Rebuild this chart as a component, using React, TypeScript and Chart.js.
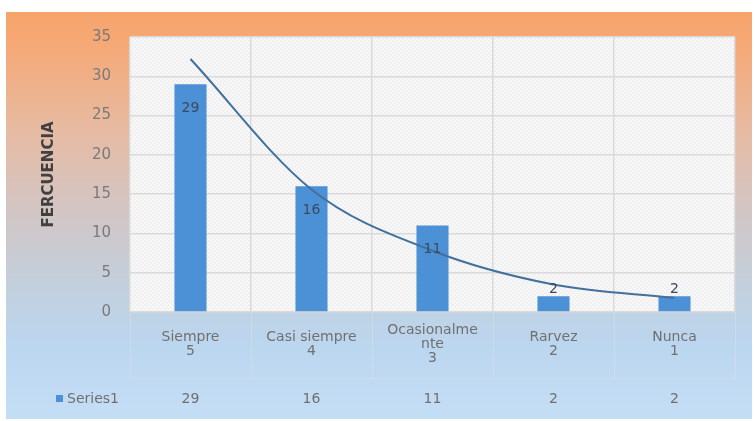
import React, { useEffect, useRef } from "react";
import { Chart, registerables } from "chart.js";

Chart.register(...registerables);

const categories: string[][] = [
  ["Siempre", "5"],
  ["Casi siempre", "4"],
  ["Ocasionalme", "nte", "3"],
  ["Rarvez", "2"],
  ["Nunca", "1"],
];
const seriesName = "Series1";
const frequencies = [29, 16, 11, 2, 2];
const trendValues = [32.2, 15.6, 7.8, 3.5, 1.8];
const yTicks = [0, 5, 10, 15, 20, 25, 30, 35];
const yTitle = "FERCUENCIA";

const FONT = "'DejaVu Sans', sans-serif";
const BAR_COLOR = "#4C91D6";

function makePattern(): CanvasPattern | string {
  const c = document.createElement("canvas");
  c.width = 4;
  c.height = 4;
  const x = c.getContext("2d");
  if (!x) return "#f4f4f4";
  x.fillStyle = "#f8f8f8";
  x.fillRect(0, 0, 4, 4);
  x.fillStyle = "#f0f0f0";
  x.fillRect(0, 0, 2, 2);
  x.fillRect(2, 2, 2, 2);
  const p = x.createPattern(c, "repeat");
  return p || "#f4f4f4";
}

export default function App() {
  const ref = useRef<HTMLCanvasElement | null>(null);

  useEffect(() => {
    const canvas = ref.current;
    if (!canvas) return;
    const pattern = makePattern();

    const decor = {
      id: "decor",
      beforeDraw(chart: any) {
        const { ctx, chartArea: a } = chart;
        ctx.save();
        const g = ctx.createLinearGradient(0, 12, 0, 419);
        g.addColorStop(0, "#F7A46B");
        g.addColorStop(0.07, "#F6A874");
        g.addColorStop(0.3, "#E6BBA4");
        g.addColorStop(0.5, "#D1C6C6");
        g.addColorStop(0.68, "#C2D0DE");
        g.addColorStop(0.82, "#BBD6EF");
        g.addColorStop(1, "#C4DEF5");
        ctx.fillStyle = g;
        ctx.fillRect(6, 12, 746, 407);
        ctx.fillStyle = pattern;
        ctx.fillRect(a.left, a.top, a.right - a.left, a.bottom - a.top);
        ctx.restore();
      },
      afterDatasetsDraw(chart: any) {
        const { ctx } = chart;
        const meta = chart.getDatasetMeta(1);
        ctx.save();
        ctx.font = `14px ${FONT}`;
        ctx.fillStyle = "#3b4a5e";
        ctx.textAlign = "center";
        ctx.textBaseline = "middle";
        meta.data.forEach((bar: any, i: number) => {
          const h = bar.base - bar.y;
          const y = h > 40 ? bar.y + 24 : bar.y - 7;
          ctx.fillText(String(frequencies[i]), bar.x, y);
        });
        ctx.restore();
      },
      afterDraw(chart: any) {
        const { ctx, chartArea: a } = chart;
        const xs = chart.scales.x;
        const n = categories.length;
        const bounds: number[] = [];
        for (let i = 0; i <= n; i++) {
          if (i === 0) bounds.push(a.left);
          else if (i === n) bounds.push(a.right);
          else bounds.push((xs.getPixelForTick(i - 1) + xs.getPixelForTick(i)) / 2);
        }
        ctx.save();
        ctx.strokeStyle = "rgba(210,220,230,0.8)";
        ctx.lineWidth = 1;
        const tableBottom = 378;
        bounds.forEach((bx) => {
          ctx.beginPath();
          ctx.moveTo(Math.round(bx) + 0.5, a.bottom);
          ctx.lineTo(Math.round(bx) + 0.5, tableBottom);
          ctx.stroke();
        });
        ctx.beginPath();
        ctx.moveTo(a.left, tableBottom + 0.5);
        ctx.lineTo(a.right, tableBottom + 0.5);
        ctx.stroke();

        const rowY = 399;
        ctx.fillStyle = BAR_COLOR;
        ctx.fillRect(56, rowY - 4, 7, 7);
        ctx.font = `14px ${FONT}`;
        ctx.fillStyle = "#707070";
        ctx.textBaseline = "middle";
        ctx.textAlign = "left";
        ctx.fillText(seriesName, 67, rowY);
        ctx.textAlign = "center";
        frequencies.forEach((v, i) => {
          ctx.fillText(String(v), xs.getPixelForTick(i), rowY);
        });
        ctx.restore();
      },
    };

    const chart = new Chart(canvas, {
      type: "bar",
      data: {
        labels: categories,
        datasets: [
          {
            type: "line",
            label: "Trend",
            data: trendValues,
            borderColor: "#41719C",
            borderWidth: 2,
            pointRadius: 0,
            cubicInterpolationMode: "monotone",
            fill: false,
            order: 1,
          } as any,
          {
            type: "bar",
            label: seriesName,
            data: frequencies,
            backgroundColor: BAR_COLOR,
            barPercentage: 0.265,
            categoryPercentage: 1,
            order: 2,
          } as any,
        ],
      },
      options: {
        responsive: false,
        animation: false,
        devicePixelRatio: 1,
        layout: { padding: { left: 6, top: 37, right: 20, bottom: 0 } },
        plugins: {
          legend: { display: false },
          tooltip: { enabled: false },
        },
        scales: {
          x: {
            offset: true,
            grid: { color: "#dadada", lineWidth: 1.5, drawTicks: false, offset: true },
            border: { display: false },
            ticks: {
              color: "#707070",
              font: { family: FONT, size: 14, lineHeight: 1 },
              padding: 18,
              crossAlign: "center",
              maxRotation: 0,
              minRotation: 0,
              autoSkip: false,
            },
            afterFit: (s: any) => {
              s.height = 109;
            },
          },
          y: {
            min: 0,
            max: 35,
            afterBuildTicks: (s: any) => {
              s.ticks = yTicks.map((v) => ({ value: v }));
            },
            grid: { color: "#dadada", lineWidth: 1.5, drawTicks: false },
            border: { display: false },
            ticks: {
              color: "#7a7a7a",
              font: { family: FONT, size: 15 },
              padding: 19,
            },
            title: {
              display: true,
              text: yTitle,
              color: "#404040",
              font: { family: FONT, size: 15, weight: "bold" },
              padding: { top: 34, bottom: 0 },
            },
            afterFit: (s: any) => {
              s.width = 124;
            },
          },
        },
      } as any,
      plugins: [decor],
    });

    return () => chart.destroy();
  }, []);

  return (
    <div style={{ position: "fixed", left: 0, top: 0, width: 755, height: 421, background: "#ffffff" }}>
      <canvas ref={ref} width={755} height={421} style={{ width: 755, height: 421, display: "block" }} />
    </div>
  );
}
